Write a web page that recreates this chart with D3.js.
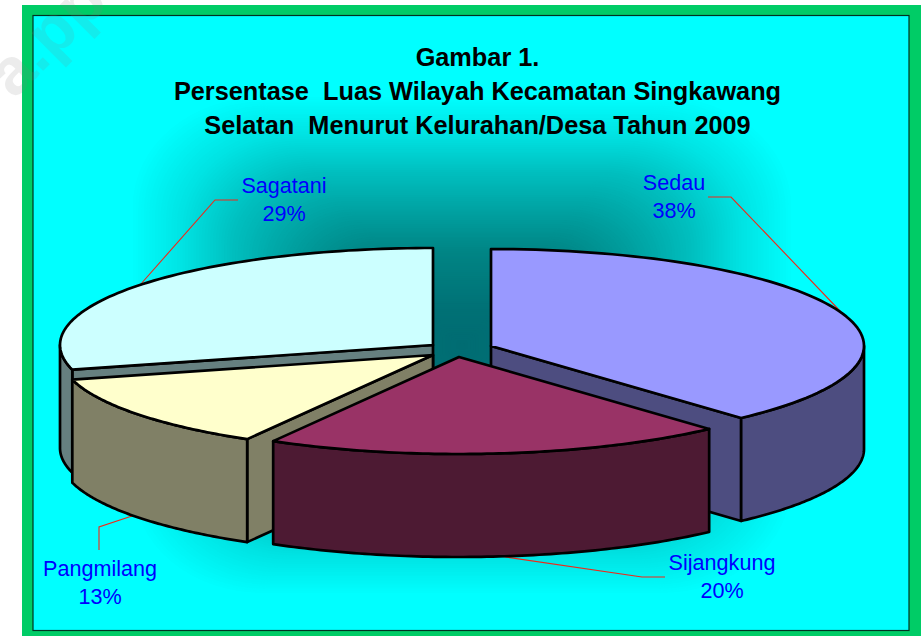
<!DOCTYPE html>
<html>
<head>
<meta charset="utf-8">
<script src="https://cdn.jsdelivr.net/npm/d3@7/dist/d3.min.js"></script>
<style>
html,body{margin:0;padding:0;background:#fff;overflow:hidden}
svg{display:block}
text{font-family:"Liberation Sans",Arial,sans-serif;white-space:pre}
</style>
</head>
<body>
<svg id="chart" width="921" height="636"></svg>
<script>
// ---- data ----
const categories = ["Sedau", "Sijangkung", "Pangmilang", "Sagatani"];
const shares = [38.3, 20, 12.6, 29.1];
const titleLines = ["Gambar 1.", "Persentase  Luas Wilayah Kecamatan Singkawang", "Selatan  Menurut Kelurahan/Desa Tahun 2009"];
const topColors = ["#9999ff", "#993366", "#ffffcc", "#ccffff"];
const wallColors = ["#4d4d80", "#4d1a33", "#808066", "#668080"];

// ---- layout ----
const W = 921, H = 636;
const cx = 462, cy = 350, rx = 373, ry = 97, depth = 103;
const explodeX = [29, -3, -29, -29], explodeY = [-4, 7, 5, -5];
const labelPos = [[674, 189.5], [722, 570], [100, 576], [284, 193]];
const leaders = [
  [[708, 197], [731, 197], [841, 312]],
  [[665, 577], [642, 577], [499, 556]],
  [[99, 550], [99, 527], [135, 515]],
  [[238, 200], [215, 200], [140, 285]]
];

const svg = d3.select("#chart");

svg.append("rect").attr("x", 22).attr("y", 5).attr("width", W - 22).attr("height", H - 5).attr("fill", "#00cc66");
svg.append("rect").attr("x", 33).attr("y", 15.5).attr("width", 876).attr("height", 615).attr("fill", "#00ffff");

// path-style background shading: nested rounded rectangles from the rim inward
const shade = d3.scaleLinear().domain([0, 0.14, 0.38, 0.5, 0.7, 0.84, 1])
  .range(["#006c72", "#007075", "#008585", "#009a9a", "#00c0c0", "#00e2e2", "#00ffff"]);
const bgCx = 462, bgCy = 345, bgRx = 332, bgRy = 250;
svg.append("g").selectAll("rect").data(d3.range(120, 0, -1).map(k => k / 120)).join("rect")
  .attr("x", t => bgCx - t * bgRx).attr("y", t => bgCy - t * bgRy)
  .attr("width", t => 2 * t * bgRx).attr("height", t => 2 * t * bgRy)
  .attr("rx", t => t * 130).attr("ry", t => t * 110)
  .attr("fill", t => shade(t));

svg.append("rect").attr("x", 33).attr("y", 15.5).attr("width", 876).attr("height", 615)
  .attr("fill", "none").attr("stroke", "#003322").attr("stroke-width", 1.2);

// ---- scales: unit-circle coordinates to screen ----
const xScale = d3.scaleLinear().domain([-1, 1]).range([cx - rx, cx + rx]);
const yScale = d3.scaleLinear().domain([-1, 1]).range([cy - ry, cy + ry]);
const slices = d3.pie().sort(null).value(d => d)(shares);
const pt = (a, i, dz = 0) => [xScale(Math.sin(a)) + explodeX[i], yScale(-Math.cos(a)) + explodeY[i] + dz];
const arcPts = (a0, a1, i, dz = 0) => d3.range(0, 81).map(k => pt(a0 + (a1 - a0) * k / 80, i, dz));
const apex = (i, dz = 0) => [xScale(0) + explodeX[i], yScale(0) + explodeY[i] + dz];
const path = d3.line();

const ink = sel => sel.attr("stroke", "#000").attr("stroke-width", 2.7).attr("stroke-linejoin", "round");

// leaders go beneath the pie
const leaderG = svg.append("g");
leaderG.selectAll("path").data(leaders).join("path")
  .attr("d", d => path(d)).attr("fill", "none").attr("stroke", "#f02818").attr("stroke-width", 1.1);

// painter's order: far slices first
const order = [3, 0, 2, 1];
const pieG = svg.append("g");
order.forEach(i => {
  const s = slices[i], g = pieG.append("g");
  const a0 = s.startAngle, a1 = s.endAngle;
  const radialWall = a => [apex(i), pt(a, i), pt(a, i, depth), apex(i, depth)];
  if (Math.sin(a0) < -1e-6) g.append("path").attr("d", path(radialWall(a0)) + "Z").attr("fill", wallColors[i]).call(ink);
  if (Math.sin(a1) > 1e-6) g.append("path").attr("d", path(radialWall(a1)) + "Z").attr("fill", wallColors[i]).call(ink);
  const w0 = Math.max(a0, Math.PI / 2), w1 = Math.min(a1, Math.PI * 1.5);
  if (w1 > w0) {
    const outer = arcPts(w0, w1, i).concat(arcPts(w1, w0, i, depth));
    g.append("path").attr("d", path(outer) + "Z").attr("fill", wallColors[i]).call(ink);
  }
  const top = [apex(i)].concat(arcPts(a0, a1, i));
  g.append("path").attr("d", path(top) + "Z").attr("fill", topColors[i]).call(ink);
});

// ---- text ----
svg.append("g").selectAll("text").data(titleLines).join("text")
  .attr("x", 477.5).attr("y", (d, i) => 66 + i * 34)
  .attr("text-anchor", "middle").attr("font-size", 25.3).attr("font-weight", "bold").attr("fill", "#000")
  .text(d => d);

const labels = svg.append("g").selectAll("text").data(categories).join("text")
  .attr("text-anchor", "middle").attr("font-size", 21.6).attr("fill", "#0000ff")
  .attr("transform", (d, i) => `translate(${labelPos[i][0]},${labelPos[i][1]})`);
labels.append("tspan").attr("x", 0).attr("y", 0).text(d => d);
labels.append("tspan").attr("x", 0).attr("y", 28).text((d, i) => Math.round(shares[i]) + "%");

// faint watermark over the corner
svg.append("text").attr("transform", "translate(14 100) rotate(-45)")
  .attr("font-size", 66).attr("font-weight", "bold").attr("fill", "#808080").attr("fill-opacity", 0.15).text("a.pp");
</script>
</body>
</html>
